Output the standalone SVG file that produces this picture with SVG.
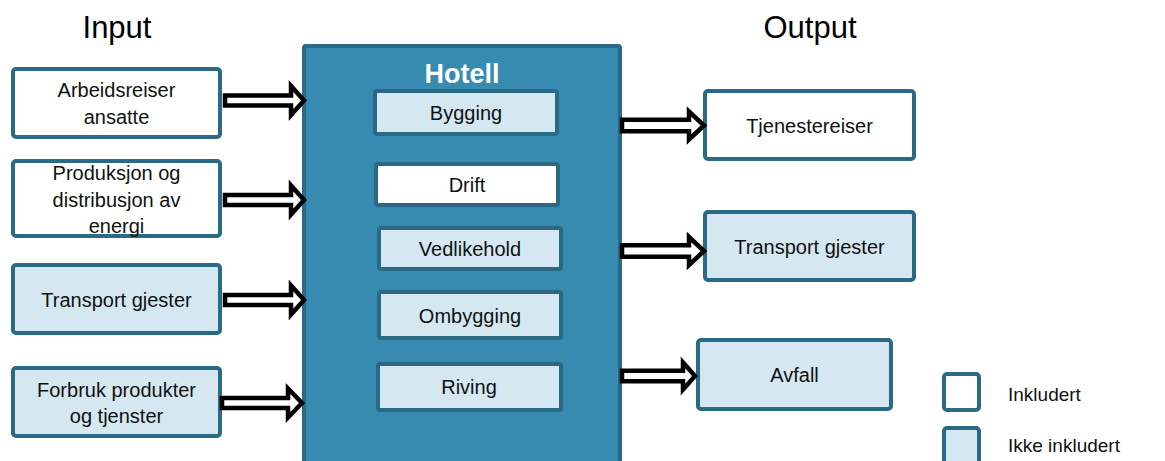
<svg xmlns="http://www.w3.org/2000/svg" width="1165" height="461" viewBox="0 0 1165 461">
<style>
.box{stroke:#2b6a85;stroke-width:4}
.inc{fill:#ffffff}
.exc{fill:#d5e8f1}
.t{font-family:"Liberation Sans",Arial,sans-serif;font-size:20px;fill:#111;text-anchor:middle}
.lg{font-family:"Liberation Sans",Arial,sans-serif;font-size:19px;fill:#111}
.title{font-family:"Liberation Sans",Arial,sans-serif;font-size:31px;fill:#000;text-anchor:middle}
.arr{fill:#fff;stroke:#000;stroke-width:4.5;stroke-linejoin:miter;stroke-miterlimit:10}
</style>
<rect width="1165" height="461" fill="#fff"/>
<text class="title" x="117" y="38">Input</text>
<text class="title" x="810" y="38">Output</text>

<g id="hotell">
<rect x="304" y="46" width="316" height="430" rx="2" fill="#378ab0" stroke="#2b6a85" stroke-width="4"/>
<text x="462" y="83" font-family="'Liberation Sans',Arial,sans-serif" font-size="27" font-weight="bold" fill="#fff" text-anchor="middle">Hotell</text>
</g>
<g id="bygging"><rect class="box exc" x="375" y="91" width="182" height="43" rx="2"/><text class="t" x="466" y="120">Bygging</text></g>
<g id="drift"><rect class="box inc" x="376" y="164" width="182" height="41" rx="2"/><text class="t" x="467" y="192">Drift</text></g>
<g id="vedlikehold"><rect class="box exc" x="379" y="228" width="182" height="41" rx="2"/><text class="t" x="470" y="256">Vedlikehold</text></g>
<g id="ombygging"><rect class="box exc" x="379" y="292" width="182" height="46" rx="2"/><text class="t" x="470" y="323">Ombygging</text></g>
<g id="riving"><rect class="box exc" x="378" y="364" width="183" height="46" rx="2"/><text class="t" x="469" y="394">Riving</text></g>

<g id="arbeidsreiser"><rect class="box inc" x="13" y="69" width="207" height="68" rx="3"/><text class="t" x="116.5" y="97">Arbeidsreiser</text><text class="t" x="116.5" y="124">ansatte</text></g>
<g id="produksjon"><rect class="box inc" x="13" y="161" width="207" height="75" rx="3"/><text class="t" x="116.5" y="180">Produksjon og</text><text class="t" x="116.5" y="207">distribusjon av</text><text class="t" x="116.5" y="233">energi</text></g>
<g id="transport-inn"><rect class="box exc" x="13" y="265" width="207" height="68" rx="3"/><text class="t" x="116.5" y="307">Transport gjester</text></g>
<g id="forbruk"><rect class="box exc" x="13" y="368" width="207" height="68" rx="3"/><text class="t" x="116.5" y="397">Forbruk produkter</text><text class="t" x="116.5" y="423">og tjenster</text></g>

<g id="tjenestereiser"><rect class="box inc" x="705" y="91" width="209" height="68" rx="3"/><text class="t" x="809.5" y="133">Tjenestereiser</text></g>
<g id="transport-ut"><rect class="box exc" x="705" y="212" width="209" height="68" rx="3"/><text class="t" x="809.5" y="254">Transport gjester</text></g>
<g id="avfall"><rect class="box exc" x="698" y="340" width="193" height="69" rx="3"/><text class="t" x="794.5" y="382">Avfall</text></g>

<g id="connectors">
<polygon class="arr" points="225,95.5 291,95.5 291,86 304,100.5 291,115 291,105.5 225,105.5"/>
<polygon class="arr" points="225,195 291,195 291,185.5 304,200 291,214.5 291,205 225,205"/>
<polygon class="arr" points="225,295 291,295 291,285.5 304,300 291,314.5 291,305 225,305"/>
<polygon class="arr" points="222,398 288,398 288,388.5 302,403 288,417.5 288,408 222,408"/>
<polygon class="arr" points="622,119.75 689,119.75 689,111.5 704,125.5 689,139.5 689,131.25 622,131.25"/>
<polygon class="arr" points="622,245.25 689,245.25 689,237 704,251 689,265 689,256.75 622,256.75"/>
<polygon class="arr" points="622,370.75 683,370.75 683,362.5 695,376 683,389.5 683,381.25 622,381.25"/>
</g>

<g id="legend">
<rect class="box inc" x="944" y="374" width="35" height="36" rx="3"/>
<text class="lg" x="1008" y="401">Inkludert</text>
<rect class="box exc" x="944" y="428" width="35" height="40" rx="3"/>
<text class="lg" x="1008" y="452">Ikke inkludert</text>
</g>
</svg>
